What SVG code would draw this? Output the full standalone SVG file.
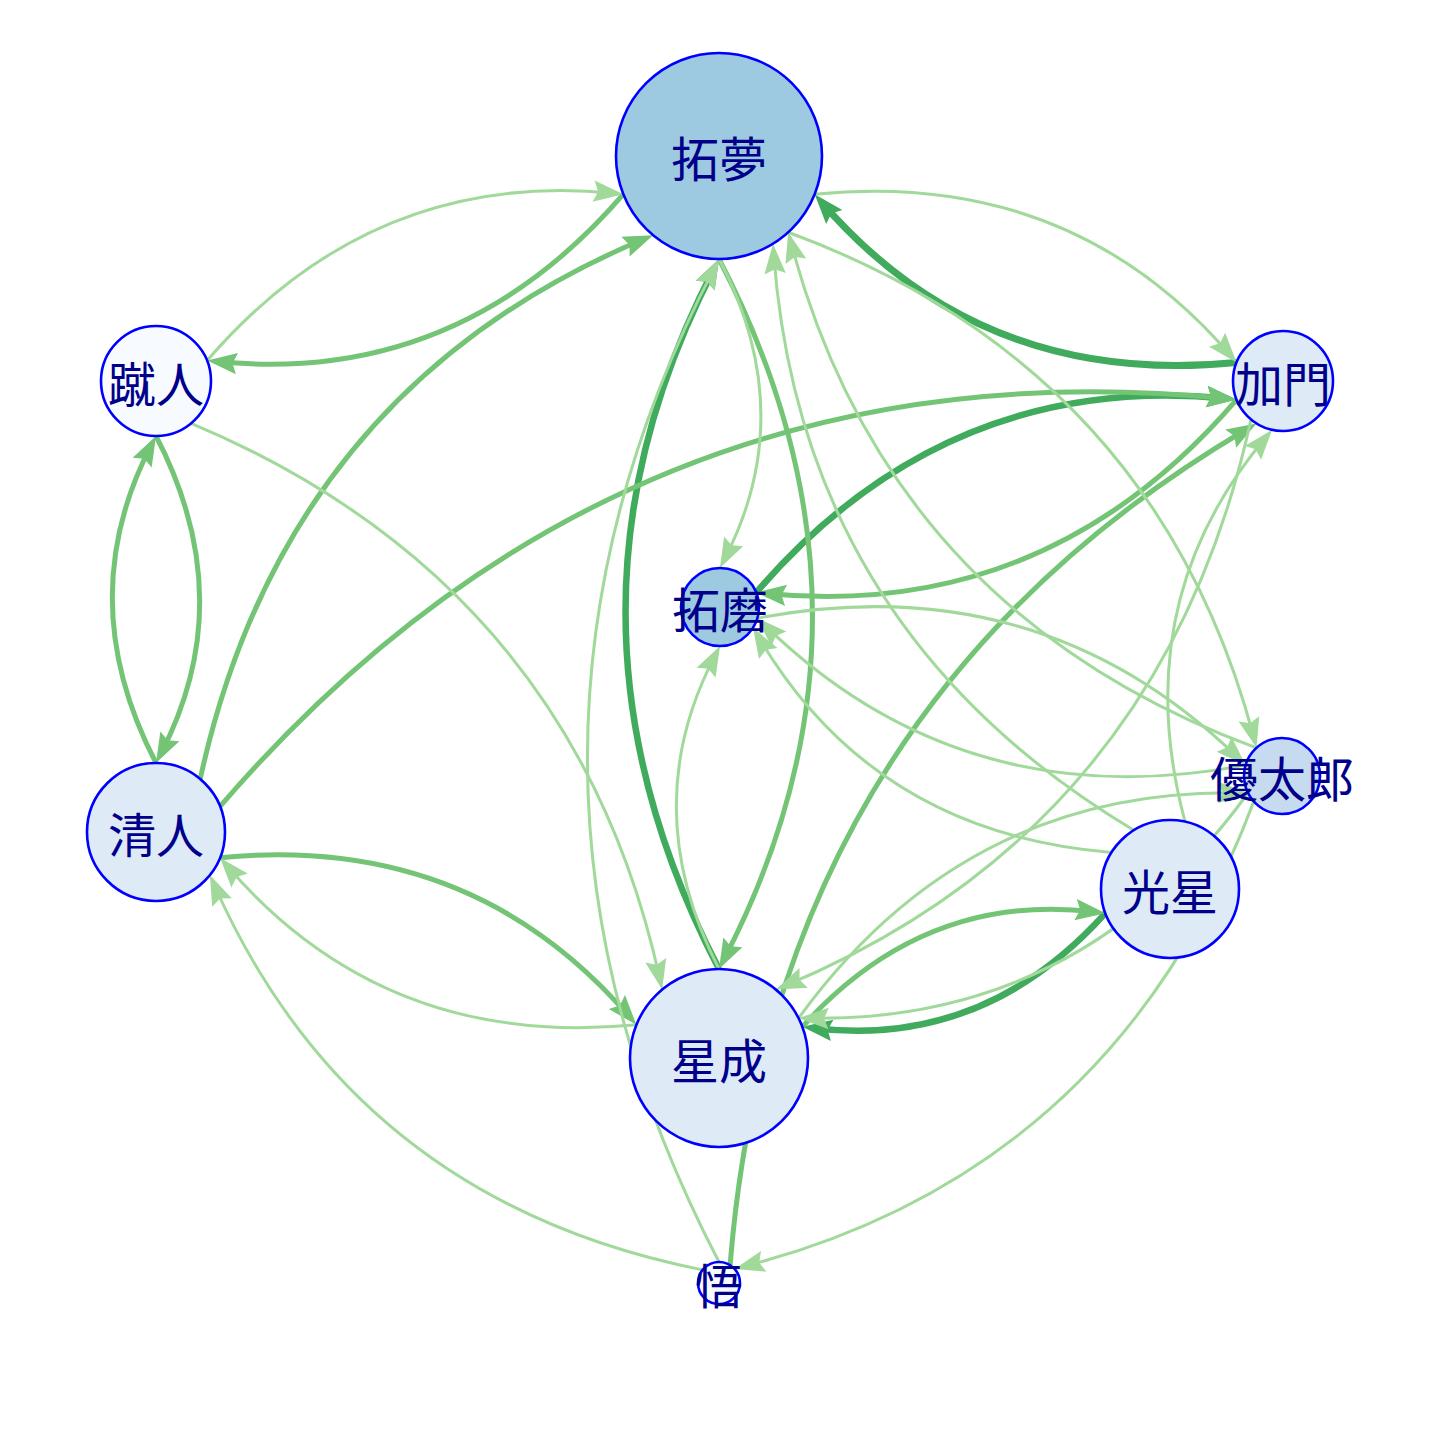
<svg xmlns="http://www.w3.org/2000/svg" width="1440" height="1440" viewBox="0 0 1440 1440">
<style>
.e{fill:none;stroke-linecap:butt}
.dk{stroke:#41AB5D;stroke-width:6.5;marker-end:url(#md)}
.md{stroke:#74C476;stroke-width:5;marker-end:url(#mm)}
.lt{stroke:#A1D99B;stroke-width:3;marker-end:url(#ml)}
.n circle{stroke:#0000FF;stroke-width:2.6}
.n text{font-family:"Noto Sans CJK JP","Noto Sans CJK SC",sans-serif;font-size:48px;fill:#00008B;text-anchor:middle;dominant-baseline:central}
</style>
<defs>
<marker id="md" markerUnits="userSpaceOnUse" orient="auto" refX="-10" refY="0" markerWidth="40" markerHeight="40" overflow="visible"><path d="M0,0 L-30,-10.7 L-25.5,0 L-30,10.7 Z" fill="#41AB5D"/></marker>
<marker id="mm" markerUnits="userSpaceOnUse" orient="auto" refX="-10" refY="0" markerWidth="40" markerHeight="40" overflow="visible"><path d="M0,0 L-30,-10.7 L-25.5,0 L-30,10.7 Z" fill="#74C476"/></marker>
<marker id="ml" markerUnits="userSpaceOnUse" orient="auto" refX="-10" refY="0" markerWidth="40" markerHeight="40" overflow="visible"><path d="M0,0 L-30,-10.7 L-25.5,0 L-30,10.7 Z" fill="#A1D99B"/></marker>
</defs>
<rect width="1440" height="1440" fill="#FFFFFF"/>
<g id="edges">
<path class="e dk" style="stroke-width:7" d="M1236.6,362.5 Q981.9,388.05 821.2,201.8"/>
<path class="e dk" d="M719,969 Q534.4,614 714.4,267.9"/>
<path class="e dk" d="M756.2,592.5 Q946.25,371.15 1226.65,398.6"/>
<path class="e dk" d="M1105.4,913.2 Q983.4,1048.8 812.3,1028"/>
<path class="e md" d="M623.4,194.2 Q458.5,385.6 217.1,361.6"/>
<path class="e md" d="M200.2,779 Q285.2,389.3 643.9,239"/>
<path class="e md" d="M719,259 Q903.6,614 723.6,960.1"/>
<path class="e md" d="M156,436 Q241,599.5 160.6,754.1"/>
<path class="e md" d="M156,763 Q71,599.5 151.4,444.9"/>
<path class="e md" d="M220.1,806.4 Q622.55,338.7 1226.65,398.6"/>
<path class="e md" d="M220,857.7 Q471.7,833 629.9,1017.25"/>
<path class="e md" d="M1236.6,399.6 Q1046.55,620.95 766.15,593.5"/>
<path class="e md" d="M730.1,1265.2 Q774.4,707.4 1247.9,428.5"/>
<path class="e md" d="M802.35,1026.8 Q924.4,891.2 1095.5,912"/>
<path class="e lt" d="M207.1,360.6 Q372,169.2 613.5,193.2"/>
<path class="e lt" d="M814.7,194.2 Q1069.4,168.7 1230.1,354.9"/>
<path class="e lt" d="M719.2,259 Q799.9,413.3 724.5,559.1"/>
<path class="e lt" d="M788.2,232.25 Q1156.4,368.3 1254,738.2"/>
<path class="e lt" d="M1256.5,747.9 Q888.3,611.9 790.75,241.9"/>
<path class="e lt" d="M1133.8,830.2 Q800.9,630.75 773.7,253.7"/>
<path class="e lt" d="M719,1262 Q458.2,760.5 714.4,267.9"/>
<path class="e lt" d="M191.2,423.3 Q573.85,584.05 660,979.8"/>
<path class="e lt" d="M636.4,1024.85 Q384.7,1049.6 226.5,865.3"/>
<path class="e lt" d="M702.6,1269.9 Q353.6,1200.6 213.9,884.25"/>
<path class="e lt" d="M1185,821.6 Q1126.65,603.1 1265.7,437.5"/>
<path class="e lt" d="M1251,419.4 Q1161.75,828 785.2,985.7"/>
<path class="e lt" d="M757.35,618.2 Q1039.7,564.75 1238.4,758.1"/>
<path class="e lt" d="M1245.6,765.1 Q963.3,818.55 764.55,625.2"/>
<path class="e lt" d="M1111.5,852.4 Q873.85,833.25 758.1,636.3"/>
<path class="e lt" d="M719,969 Q635.5,807.2 715.4,654.9"/>
<path class="e lt" d="M798.6,1018.1 Q964.8,788.75 1238,792.85"/>
<path class="e lt" d="M1248,793 Q1081.8,1022.35 808.6,1018.25"/>
<path class="e lt" d="M1253.8,801.4 Q1115.8,1170.2 744.3,1266.4"/>
</g>
<g id="n-takumu" class="n"><circle cx="719" cy="156" r="103" fill="#9ECAE1"/><text x="719" y="156">拓夢</text></g>
<g id="n-shuto" class="n"><circle cx="156" cy="381" r="55" fill="#F7FBFF"/><text x="156" y="381">蹴人</text></g>
<g id="n-kamon" class="n"><circle cx="1283" cy="381" r="50" fill="#DEEBF7"/><text x="1283" y="381">加門</text></g>
<g id="n-takuma" class="n"><circle cx="720" cy="607" r="39" fill="#9ECAE1"/><text x="720" y="607">拓磨</text></g>
<g id="n-yutaro" class="n"><circle cx="1282" cy="776" r="38" fill="#C6DBEF"/><text x="1282" y="776">優太郎</text></g>
<g id="n-kiyoto" class="n"><circle cx="156" cy="832" r="69" fill="#DEEBF7"/><text x="156" y="832">清人</text></g>
<g id="n-kosei" class="n"><circle cx="1170" cy="889" r="69" fill="#DEEBF7"/><text x="1170" y="889">光星</text></g>
<g id="n-seisei" class="n"><circle cx="719" cy="1058" r="89" fill="#DEEBF7"/><text x="719" y="1058">星成</text></g>
<g id="n-satoru" class="n"><circle cx="719" cy="1283" r="21" fill="#F7FBFF"/><text x="719" y="1283">悟</text></g>
</svg>
